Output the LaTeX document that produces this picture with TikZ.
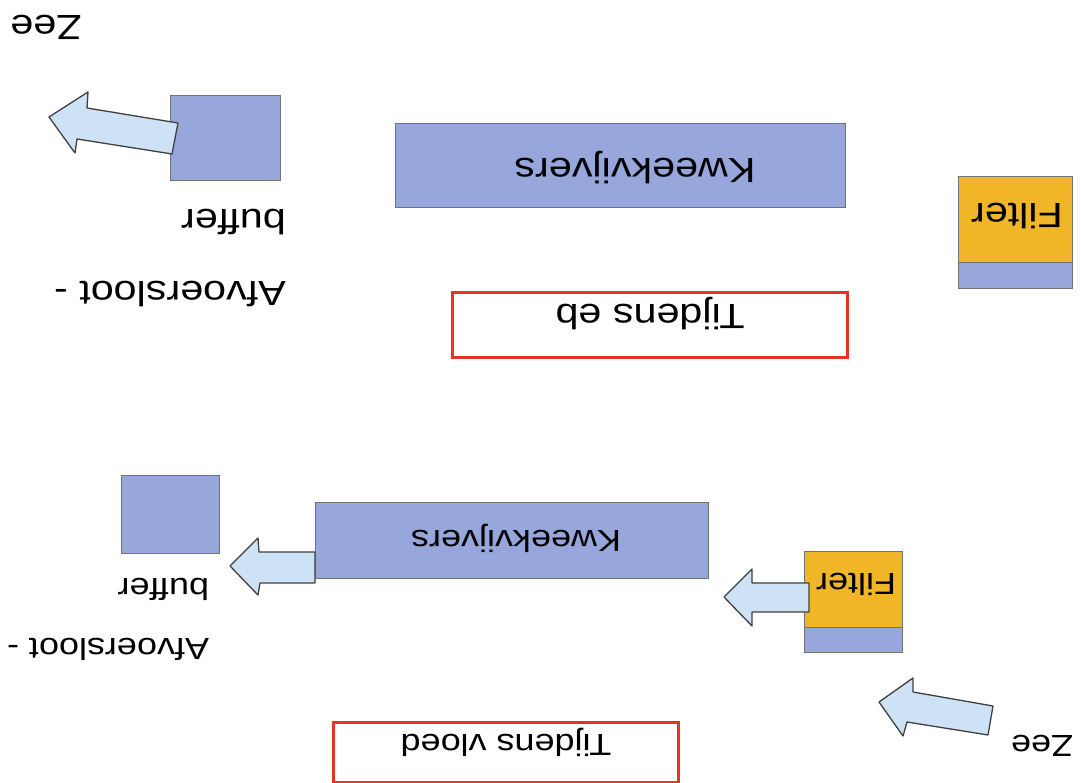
\documentclass[tikz,border=0pt]{standalone}
\usepackage{fontspec}
\setmainfont{Liberation Sans}
\usepackage{tikz}
\usetikzlibrary{positioning}
\definecolor{pondblue}{RGB}{151,167,220}
\definecolor{filterorange}{RGB}{240,182,40}
\definecolor{arrowblue}{RGB}{206,226,246}
\definecolor{tidered}{RGB}{226,52,36}
\tikzset{
  pond/.style={fill=pondblue,draw=black!55,line width=0.7pt},
  sand/.style={fill=filterorange,draw=black!55,line width=0.7pt},
  flow/.style={fill=arrowblue,draw=black!75,line width=1.3pt,line join=round},
  tide/.style={fill=white,draw=tidered,line width=3pt},
  lbl/.style={rotate=180,xscale=1.18,inner sep=0pt,align=left,font=\fontsize{35}{72}\selectfont},
  lbls/.style={lbl,font=\fontsize{30.5}{60}\selectfont}
}

\begin{document}
\begin{tikzpicture}[x=1pt,y=-1pt]
  \useasboundingbox[fill=white] (0,0) rectangle (1081,783);

  % eb (top half)
  \node[lbl] (zee1) at (46,27) {Zee};

  \draw[pond] (170,95) rectangle (280,180);
  \draw[flow] (49,117) -- (88,92) -- (87,108) -- (178,123) -- (172,154) -- (77,139) -- (75,153) -- cycle;
  \node[lbl] (afvoer1) at (170,258) {Afvoersloot -\\buffer};

  \draw[pond] (395,123) rectangle (845,207);
  \node[lbl] (kweek1) at (635,168) {Kweekvijvers};

  \draw[tide] (452,293) rectangle (847,357);
  \node[lbl] (eb) at (650,314) {Tijdens eb};

  \draw[sand] (958,176) rectangle (1072,262);
  \draw[pond] (958,262) rectangle (1072,288);
  \node[lbl] (filter1) at (1017,216) {Filter};

  % vloed (bottom half)
  \draw[pond] (121,475) rectangle (219,553);
  \node[lbls] (afvoer2) at (108,619) {Afvoersloot -\\buffer};

  \draw[pond] (315,502) rectangle (708,578);
  \node[lbls] (kweek2) at (516,538) {Kweekvijvers};
  \draw[flow] (230,566) -- (258,538) -- (259,552) -- (315,552) -- (315,583) -- (260,583) -- (258,595) -- cycle;

  \draw[sand] (804,551) rectangle (902,627);
  \draw[pond] (804,627) rectangle (902,652);
  \node[lbls] (filter2) at (856,584) {Filter};
  \draw[flow] (724,597) -- (752,569) -- (752,583) -- (809,583) -- (809,612) -- (752,612) -- (752,626) -- cycle;

  \draw[flow] (879,702) -- (913,678) -- (913,692) -- (993,706) -- (988,735) -- (907,722) -- (903,736) -- cycle;
  \node[lbls] (zee2) at (1042,746) {Zee};

  \draw[tide] (333,722) rectangle (678,782);
  \node[lbls] (vloed) at (506,742) {Tijdens vloed};
\end{tikzpicture}
\end{document}
